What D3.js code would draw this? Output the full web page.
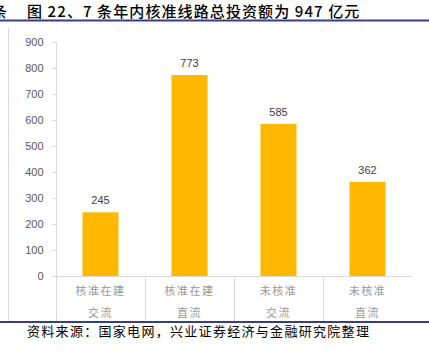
<!DOCTYPE html>
<html><head><meta charset="utf-8">
<script src="https://cdn.jsdelivr.net/npm/d3@7"></script>
<style>body{margin:0;background:#fff}svg{display:block}</style>
</head><body>
<svg id="c" width="429" height="358"></svg>
<script>
const categories = [["核准在建","交流"],["核准在建","直流"],["未核准","交流"],["未核准","直流"]];
const values = [245, 773, 585, 362];
const yTicks = [0,100,200,300,400,500,600,700,800,900];
const titleText = "图 22、7 条年内核准线路总投资额为 947 亿元";
const sourceText = "资料来源：国家电网，兴业证券经济与金融研究院整理";

const svg = d3.select("#c");
const W = 429, H = 358;
const cjk = "'Noto Sans CJK SC', sans-serif";
const lat = "'Liberation Sans', Arial, sans-serif";

// title
svg.append("text").attr("x", -8).attr("y", 16.5).attr("font-family", cjk).attr("font-size", 15)
  .attr("font-weight", 500).attr("fill", "#000").text("条");
svg.append("text").attr("x", 27).attr("y", 16.5).attr("font-family", cjk).attr("font-size", 15)
  .attr("font-weight", 500).attr("letter-spacing", 1.1).attr("fill", "#000").text(titleText);
svg.append("rect").attr("x", 0).attr("y", 19.5).attr("width", W).attr("height", 2).attr("fill", "#363f84");
svg.append("rect").attr("x", 0).attr("y", 321).attr("width", W).attr("height", 2).attr("fill", "#363f84");
svg.append("text").attr("x", 27).attr("y", 336).attr("font-family", cjk).attr("font-size", 13)
  .attr("letter-spacing", 1.3).attr("fill", "#000").text(sourceText);

// frame left line
svg.append("line").attr("x1", 8.5).attr("x2", 8.5).attr("y1", 28).attr("y2", 321)
  .attr("stroke", "#d9d9d9").attr("stroke-width", 1);

const x = d3.scaleBand().domain(d3.range(categories.length)).range([56, 412]).padding(0);
const y = d3.scaleLinear().domain([0, 900]).range([276, 42]);

// y axis
const yAxis = svg.append("g").attr("transform", "translate(56.5,0)")
  .call(d3.axisLeft(y).tickValues(yTicks).tickSize(4).tickPadding(9));
yAxis.select(".domain").attr("stroke", "#d9d9d9").attr("d", "M-4," + (y(900)+0.5) + "H0V" + 321);
yAxis.selectAll(".tick line").attr("stroke", "#d9d9d9");
yAxis.selectAll(".tick text").attr("font-family", lat).attr("font-size", 11).attr("fill", "#595959");

// x axis line
svg.append("line").attr("x1", 52).attr("x2", 412).attr("y1", y(0)+0.5).attr("y2", y(0)+0.5)
  .attr("stroke", "#d9d9d9");
// separators
svg.selectAll("line.sep").data(d3.range(1, categories.length)).join("line").attr("class","sep")
  .attr("x1", d => Math.round(x(d))+0.5).attr("x2", d => Math.round(x(d))+0.5)
  .attr("y1", y(0)).attr("y2", 321).attr("stroke", "#d9d9d9");

// bars
const bw = x.bandwidth() * 0.405;
svg.selectAll("rect.bar").data(values).join("rect").attr("class","bar")
  .attr("x", (d,i) => x(i) + x.bandwidth()/2 - bw/2)
  .attr("y", d => y(d)).attr("width", bw).attr("height", d => y(0) - y(d))
  .attr("fill", "#ffb800");

// value labels
svg.selectAll("text.val").data(values).join("text").attr("class","val")
  .attr("x", (d,i) => x(i) + x.bandwidth()/2).attr("y", d => y(d) - 8)
  .attr("text-anchor", "middle").attr("font-family", lat).attr("font-size", 11)
  .attr("fill", "#404040").text(d => d);

// category labels
const cg = svg.selectAll("g.cat").data(categories).join("g").attr("class","cat");
cg.append("text").attr("x", (d,i) => x(i) + x.bandwidth()/2).attr("y", 295)
  .attr("text-anchor","middle").attr("font-family", cjk).attr("font-size", 11)
  .attr("letter-spacing", 1.5).attr("fill", "#999999").text(d => d[0]);
cg.append("text").attr("x", (d,i) => x(i) + x.bandwidth()/2).attr("y", 317)
  .attr("text-anchor","middle").attr("font-family", cjk).attr("font-size", 11)
  .attr("letter-spacing", 1.5).attr("fill", "#999999").text(d => d[1]);
</script>
</body></html>
